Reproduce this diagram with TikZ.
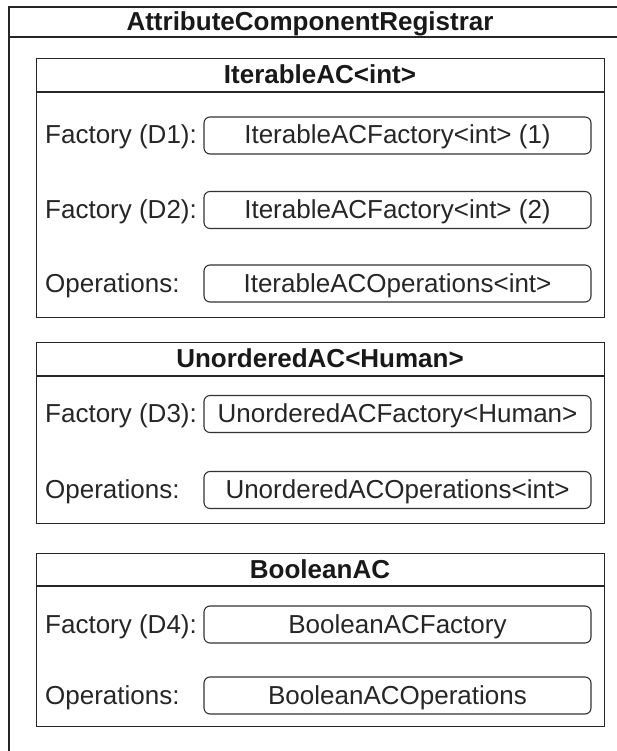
\documentclass[tikz,border=0pt]{standalone}
\usepackage{fontspec}
\setmainfont{Liberation Sans}
\begin{document}
\begin{tikzpicture}[x=1pt,y=-1pt,
  line join=miter,
  frame/.style={draw=black!85, line width=1.3pt},
  panel/.style={frame, rectangle, anchor=north west, inner sep=0pt, minimum width=568pt},
  slot/.style={draw=black!80, line width=1.1pt, rounded corners=6pt,
    minimum width=387pt, minimum height=37pt, inner sep=0pt, text=black!85,
    font=\fontsize{26}{30}\selectfont, text height=18pt, text depth=1pt},
  caption/.style={font=\fontsize{26}{30}\selectfont\bfseries, text=black!90,
    inner sep=0pt, text height=18pt, text depth=1pt},
  field/.style={font=\fontsize{26}{30}\selectfont, anchor=west, inner sep=0pt,
    text=black!85, text height=18pt, text depth=1pt}
]
\useasboundingbox (0,0) rectangle (617,751);
\clip (0,0) rectangle (617,751);
\fill[white] (0,0) rectangle (617,751);

% registrar frame (runs past the right and bottom edges)
\coordinate (regTL) at (9,7);
\coordinate (regTR) at (650,7);
\coordinate (regBL) at (9,780);
\coordinate (regHL) at (9,37);
\coordinate (regHR) at (650,37);
\draw[frame] (regTR) -- (regTL) -- (regBL);
\draw[frame] (regHL) -- (regHR);
\node[caption] (reg) at (310,22) {AttributeComponentRegistrar};

% IterableAC<int>
\node[panel, minimum height=259pt] (itbox) at (36,58) {};
\draw[frame] ([yshift=-34pt]itbox.north west) -- ([yshift=-34pt]itbox.north east);
\node[caption] (it) at (320,75) {IterableAC<int>};
\node[field] (itf1l) at (45,135.5) {Factory (D1):};
\node[slot] (itf1) at (397.5,135.5) {IterableACFactory<int> (1)};
\node[field] (itf2l) at (45,210) {Factory (D2):};
\node[slot] (itf2) at (397.5,210) {IterableACFactory<int> (2)};
\node[field] (itopl) at (45,283.5) {Operations:};
\node[slot] (itop) at (397.5,283.5) {IterableACOperations<int>};

% UnorderedAC<Human>
\node[panel, minimum height=181pt] (unbox) at (36,342) {};
\draw[frame] ([yshift=-34pt]unbox.north west) -- ([yshift=-34pt]unbox.north east);
\node[caption] (un) at (320,359) {UnorderedAC<Human>};
\node[field] (unfl) at (45,414) {Factory (D3):};
\node[slot] (unf) at (397.5,414) {UnorderedACFactory<Human>};
\node[field] (unopl) at (45,490) {Operations:};
\node[slot] (unop) at (397.5,490) {UnorderedACOperations<int>};

% BooleanAC
\node[panel, minimum height=173pt] (bobox) at (36,553) {};
\draw[frame] ([yshift=-33pt]bobox.north west) -- ([yshift=-33pt]bobox.north east);
\node[caption] (bo) at (320,569.5) {BooleanAC};
\node[field] (bofl) at (45,624.5) {Factory (D4):};
\node[slot] (bof) at (397.5,624.5) {BooleanACFactory};
\node[field] (bopl) at (45,695.5) {Operations:};
\node[slot] (bop) at (397.5,695.5) {BooleanACOperations};
\end{tikzpicture}
\end{document}
